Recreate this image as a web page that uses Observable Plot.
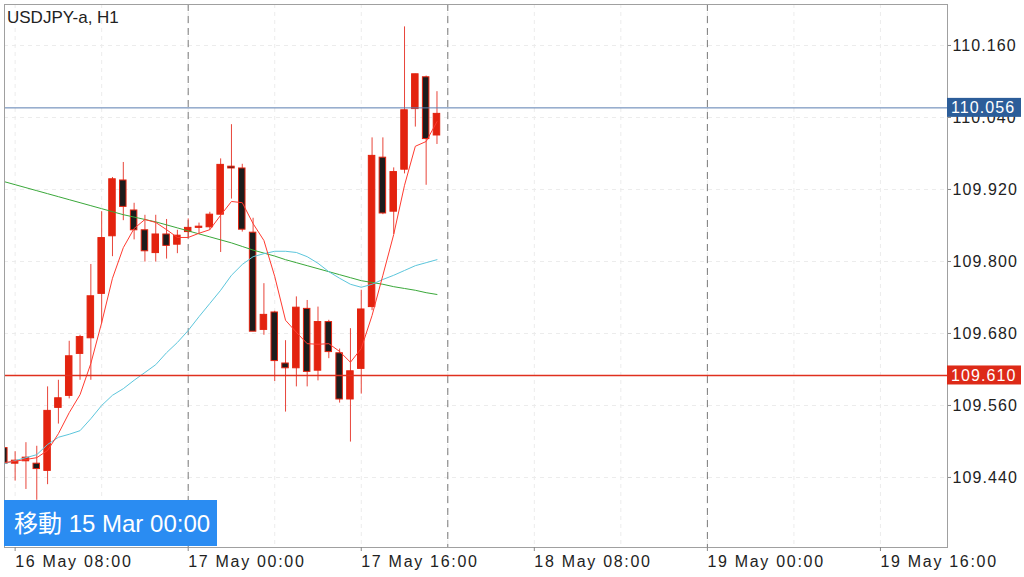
<!DOCTYPE html>
<html>
<head>
<meta charset="utf-8">
<script src="https://cdn.jsdelivr.net/npm/d3@7"></script>
<script src="https://cdn.jsdelivr.net/npm/@observablehq/plot@0.6"></script>
<style>
  html, body { margin: 0; padding: 0; background: #fff; }
  #chart { width: 1024px; height: 577px; }
</style>
</head>
<body>
<div id="chart"></div>
<script>
// ---- Data ----
const symbolTitle = "USDJPY-a, H1";
const navLabel = "移動 15 Mar 00:00";

const times = [
  "2019-05-16T07:00Z","2019-05-16T08:00Z","2019-05-16T09:00Z","2019-05-16T10:00Z","2019-05-16T11:00Z",
  "2019-05-16T12:00Z","2019-05-16T13:00Z","2019-05-16T14:00Z","2019-05-16T15:00Z","2019-05-16T16:00Z",
  "2019-05-16T17:00Z","2019-05-16T18:00Z","2019-05-16T19:00Z","2019-05-16T20:00Z","2019-05-16T21:00Z",
  "2019-05-16T22:00Z","2019-05-16T23:00Z","2019-05-17T00:00Z","2019-05-17T01:00Z","2019-05-17T02:00Z",
  "2019-05-17T03:00Z","2019-05-17T04:00Z","2019-05-17T05:00Z","2019-05-17T06:00Z","2019-05-17T07:00Z",
  "2019-05-17T08:00Z","2019-05-17T09:00Z","2019-05-17T10:00Z","2019-05-17T11:00Z","2019-05-17T12:00Z",
  "2019-05-17T13:00Z","2019-05-17T14:00Z","2019-05-17T15:00Z","2019-05-17T16:00Z","2019-05-17T17:00Z",
  "2019-05-17T18:00Z","2019-05-17T19:00Z","2019-05-17T20:00Z","2019-05-17T21:00Z","2019-05-17T22:00Z",
  "2019-05-17T23:00Z"
];
const open = [
  109.489,109.463,109.467,109.463,109.451,109.556,109.576,109.646,109.672,109.746,
  109.842,109.935,109.885,109.852,109.814,109.845,109.828,109.849,109.856,109.857,
  109.878,109.958,109.955,109.848,109.686,109.715,109.630,109.622,109.721,109.618,
  109.699,109.647,109.570,109.621,109.724,109.973,109.883,109.953,110.054,110.107,
  110.010
];
const high = [
  109.492,109.483,109.498,109.492,109.591,109.602,109.667,109.677,109.795,109.883,
  109.940,109.965,109.897,109.877,109.877,109.870,109.852,109.871,109.864,109.882,
  109.971,110.028,109.962,109.872,109.763,109.717,109.668,109.741,109.735,109.724,
  109.702,109.654,109.688,109.752,110.006,110.006,109.956,110.191,110.112,110.109,
  110.083
];
const low = [
  109.458,109.434,109.420,109.402,109.428,109.529,109.571,109.602,109.602,109.696,
  109.808,109.868,109.836,109.799,109.799,109.804,109.813,109.840,109.845,109.852,
  109.815,109.904,109.849,109.683,109.677,109.600,109.549,109.591,109.591,109.601,
  109.638,109.564,109.499,109.579,109.718,109.878,109.845,109.946,110.024,109.927,
  109.995
];
const close = [
  109.463,109.468,109.473,109.454,109.551,109.572,109.642,109.674,109.742,109.839,
  109.937,109.891,109.852,109.817,109.845,109.826,109.843,109.856,109.858,109.878,
  109.961,109.955,109.853,109.683,109.711,109.634,109.622,109.723,109.616,109.699,
  109.649,109.570,109.617,109.720,109.976,109.880,109.949,110.052,110.112,110.004,
  110.046
];
// moving averages as drawn (fast red, middle cyan, slow green)
const maFast = [
  109.465,109.467,109.470,109.473,109.485,109.513,109.548,109.578,109.630,109.698,
  109.772,109.823,109.855,109.870,109.865,109.853,109.840,109.840,109.847,109.853,
  109.877,109.900,109.898,109.863,109.835,109.775,109.702,109.682,109.663,109.662,
  109.663,109.650,109.632,109.655,109.710,109.777,109.845,109.927,109.992,110.000,
  110.033
];
const maMid = [
  109.463,109.468,109.473,109.478,109.495,109.507,109.512,109.518,109.538,109.560,
  109.577,109.588,109.602,109.615,109.628,109.648,109.665,109.685,109.708,109.730,
  109.752,109.777,109.795,109.808,109.813,109.817,109.817,109.815,109.808,109.797,
  109.783,109.772,109.762,109.757,109.762,109.770,109.777,109.785,109.793,109.798,
  109.803
];
const maSlow = [
  109.933,109.928,109.923,109.918,109.913,109.908,109.903,109.898,109.893,109.888,
  109.883,109.878,109.874,109.870,109.866,109.861,109.856,109.851,109.846,109.841,
  109.836,109.831,109.825,109.819,109.814,109.809,109.803,109.798,109.793,109.788,
  109.783,109.778,109.773,109.768,109.765,109.762,109.758,109.755,109.752,109.748,
  109.745
];

const yTicks = [110.160, 110.040, 109.920, 109.800, 109.680, 109.560, 109.440];
const xTicks = ["2019-05-16T08:00Z","2019-05-17T00:00Z","2019-05-17T16:00Z","2019-05-18T08:00Z","2019-05-19T00:00Z","2019-05-19T16:00Z"];
const gridTimes = ["2019-05-16T08:00Z","2019-05-16T16:00Z","2019-05-17T00:00Z","2019-05-17T08:00Z","2019-05-17T16:00Z","2019-05-18T00:00Z","2019-05-18T08:00Z","2019-05-18T16:00Z","2019-05-19T00:00Z","2019-05-19T08:00Z","2019-05-19T16:00Z"];
const daySeparators = ["2019-05-17T00:00Z","2019-05-18T00:00Z","2019-05-19T00:00Z"];
const xDomain = ["2019-05-16T07:01Z","2019-05-19T22:12Z"];
const yDomain = [109.3233, 110.2283];
const bidPrice = 110.056;
const levelPrice = 109.610;

// ---- Build tables ----
const candles = times.map((t, i) => ({
  t: new Date(t), o: open[i], h: high[i], l: low[i], c: close[i],
  up: close[i] >= open[i], f: maFast[i], m: maMid[i], s: maSlow[i]
}));
const half = 18 * 60 * 1000;
const RED = "#e3230f";
const DARK = "#1c1c1c";
const font = "'Liberation Sans', Arial, 'Noto Sans CJK JP', sans-serif";

const chart = Plot.plot({
  width: 1024,
  height: 577,
  marginLeft: 4,
  marginRight: 77,
  marginTop: 4,
  marginBottom: 30,
  style: { fontFamily: font, fontSize: "16px", color: "#222", background: "#fff" },
  x: { type: "utc", domain: xDomain.map(d => new Date(d)), label: null },
  y: { domain: yDomain, label: null },
  marks: [
    Plot.gridX(gridTimes.map(d => new Date(d)), { stroke: "#ececec", strokeOpacity: 1, strokeDasharray: "4,4" }),
    Plot.gridY(yTicks, { stroke: "#ececec", strokeOpacity: 1, strokeDasharray: "4,4" }),
    Plot.ruleX(daySeparators.map(d => new Date(d)), { stroke: "#7a7a7a", strokeDasharray: "7,5", strokeWidth: 1, ariaLabel: "day-separator" }),
    Plot.ruleX(candles, { x: "t", y1: "l", y2: "h", stroke: "#e8453a", strokeWidth: 1, clip: true }),
    Plot.rect(candles, {
      x1: d => new Date(+d.t - half), x2: d => new Date(+d.t + half),
      y1: "o", y2: "c",
      fill: d => d.up ? RED : DARK, stroke: RED, strokeWidth: 1, clip: true
    }),
    Plot.lineY(candles, { x: "t", y: "s", stroke: "#3aa83a", strokeWidth: 1, clip: true }),
    Plot.lineY(candles, { x: "t", y: "m", stroke: "#5cc6dc", strokeWidth: 1, clip: true }),
    Plot.lineY(candles, { x: "t", y: "f", stroke: "#ff3b30", strokeWidth: 1, clip: true }),
    Plot.ruleY([bidPrice], { stroke: "#5b7db0", strokeWidth: 1 }),
    Plot.ruleY([levelPrice], { stroke: "#e0301e", strokeWidth: 1.5 }),
    Plot.frame({ stroke: "#a0a0a0" }),
    Plot.axisY(yTicks, {
      anchor: "right", tickSize: 3, tickPadding: 2, stroke: "#888", label: null,
      tickFormat: d => d.toFixed(3), fill: "#222", fontSize: 16
    }),
    Plot.axisX(xTicks.map(d => new Date(d)), {
      anchor: "bottom", tickSize: 4, tickPadding: 4, stroke: "#888", label: null,
      textAnchor: "start", fill: "#222", fontSize: 16,
      tickFormat: d3.utcFormat("%-d %b %H:%M")
    })
  ]
});

document.getElementById("chart").appendChild(chart);

// ---- Overlays positioned with the plot's own scales ----
const svg = d3.select(chart);
const ys = chart.scale("y");

svg.selectAll('g[aria-label="x-axis tick label"] text').style("letter-spacing", "1.7px");
svg.selectAll('g[aria-label="y-axis tick label"] text').style("letter-spacing", "1.1px");

function priceTag(price, bg) {
  const yy = ys.apply(price);
  const g = svg.append("g").attr("text-anchor", "start");
  g.append("rect").attr("x", 947).attr("y", yy - 9.5).attr("width", 74).attr("height", 19).attr("fill", bg);
  g.append("text").attr("x", 951).attr("y", yy).attr("dy", "0.36em").attr("text-anchor", "start")
    .attr("fill", "#fff").attr("font-family", font).attr("font-size", 16)
    .style("letter-spacing", "1.1px").text(price.toFixed(3));
}
priceTag(bidPrice, "#2c5d99");
priceTag(levelPrice, "#dd2a18");

// symbol title
svg.append("text").attr("x", 7).attr("y", 23).attr("fill", "#222").attr("text-anchor", "start")
  .attr("font-family", font).attr("font-size", 17).text(symbolTitle);

// navigation badge (box sits beneath the day separators, like the reference)
svg.insert("rect", 'g[aria-label="day-separator"]')
  .attr("x", 4).attr("y", 500).attr("width", 213).attr("height", 46).attr("fill", "#2a8cf2");
svg.append("text").attr("x", 14).attr("y", 532).attr("fill", "#fff").attr("text-anchor", "start")
  .attr("font-family", font).attr("font-size", 24).text(navLabel);
</script>
</body>
</html>
